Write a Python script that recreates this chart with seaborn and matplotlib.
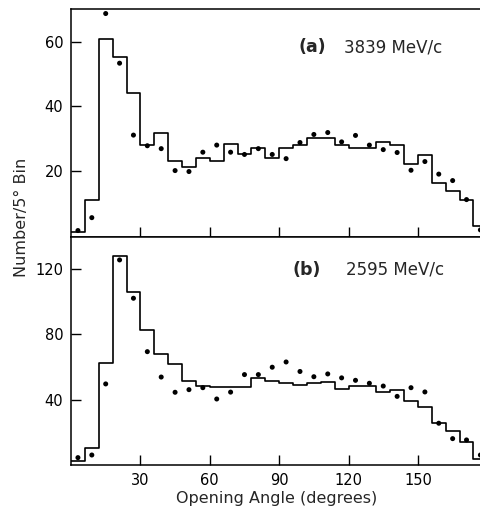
import matplotlib
matplotlib.use("Agg")
import matplotlib.pyplot as plt
import seaborn as sns
import pandas as pd

sns.set_style("ticks")
plt.rcParams['font.family'] = ['DejaVu Sans']

# ---- data ----
bin_edges = list(range(0, 181, 6))
angle_centers = [3, 9, 15, 21, 27, 33, 39, 45, 51, 57, 63, 69, 75, 81, 87,
                 93, 99, 105, 111, 117, 123, 129, 135, 141, 147, 153, 159, 165, 171, 177]

hist_a = [1.2, 10.9, 60.9, 55.3, 44.1, 28.1, 31.9, 23.2, 21.1, 24.1,
          23.2, 28.3, 25.2, 27.0, 24.1, 27.2, 28.1, 30.3, 30.3, 28.1,
          27.0, 27.0, 29.1, 28.0, 22.2, 24.9, 16.1, 13.9, 10.9, 2.9]
dots_a = [1.5, 5.5, 68.8, 53.4, 31.1, 27.8, 26.9, 20.1, 19.8, 25.8,
          28.0, 25.8, 25.1, 26.9, 25.1, 23.8, 28.8, 31.3, 31.9, 29.0,
          31.0, 28.0, 26.6, 25.7, 20.2, 22.9, 19.0, 17.0, 11.1, 1.7]

hist_b = [2.7, 10.5, 62.4, 127.8, 105.8, 82.7, 68.1, 62.2, 51.8, 48.7,
          48.1, 48.1, 48.1, 53.2, 51.6, 50.2, 49.3, 50.2, 51.2, 46.5,
          48.7, 48.8, 45.1, 46.1, 39.6, 35.9, 25.8, 20.9, 14.4, 3.8]
dots_b = [4.8, 6.4, 49.8, 125.5, 102.1, 69.5, 54.0, 44.7, 46.3, 47.5,
          40.6, 44.8, 55.5, 55.5, 60.0, 63.2, 57.4, 54.2, 55.9, 53.5,
          52.0, 50.2, 48.5, 42.2, 47.5, 44.9, 25.8, 16.4, 15.6, 6.4]

yticks_a = [20, 40, 60]
yticks_b = [40, 80, 120]
xticks = [30, 60, 90, 120, 150]
label_a = ("(a)", "3839 MeV/c")
label_b = ("(b)", "2595 MeV/c")

W, H = 480, 508
fig = plt.figure(figsize=(W / 100, H / 100), dpi=100)
left = 71
ax_a = fig.add_axes([left / W, 1 - 237 / H, (W - left) / W, (237 - 8.7) / H])
ax_b = fig.add_axes([left / W, 1 - 465 / H, (W - left) / W, (465 - 237) / H])

for ax, hv, dv, yl, yt in [(ax_a, hist_a, dots_a, (-0.5, 70.3), yticks_a),
                           (ax_b, hist_b, dots_b, (0.3, 139.5), yticks_b)]:
    df = pd.DataFrame({"angle": angle_centers, "hist": hv, "dots": dv})
    sns.histplot(data=df, x="angle", weights="hist", bins=bin_edges,
                 element="step", fill=False, color="black", linewidth=1.2, ax=ax)
    sns.scatterplot(data=df, x="angle", y="dots", color="black", s=13,
                    edgecolor="none", ax=ax, zorder=3)
    ax.set_xlim(0, (W - left) / 2.313)
    ax.set_ylim(*yl)
    ax.set_yticks(yt)
    ax.set_xticks(xticks)
    ax.set_xlabel("")
    ax.set_ylabel("")
    ax.tick_params(direction="in", length=7.5, width=1.0, labelsize=10.5,
                   pad=5.5, colors="black")
    ax.spines["right"].set_visible(False)
    for s in ["left", "top", "bottom"]:
        ax.spines[s].set_linewidth(1.1)
        ax.spines[s].set_color("black")

ax_a.tick_params(axis="x", labelbottom=False)

fig.text(298 / W, 1 - 47 / H, label_a[0], fontsize=12.5, fontweight="bold",
         ha="left", va="center")
fig.text(344 / W, 1 - 47 / H, label_a[1], fontsize=12, ha="left", va="center")
fig.text(292 / W, 1 - 270 / H, label_b[0], fontsize=12.5, fontweight="bold",
         ha="left", va="center")
fig.text(346 / W, 1 - 270 / H, label_b[1], fontsize=12, ha="left", va="center")

fig.text(22 / W, 1 - 217 / H, "Number/5° Bin", rotation=90, fontsize=11.5,
         ha="center", va="center")
fig.text(277 / W, 1 - 499 / H, "Opening Angle (degrees)", fontsize=11.5,
         ha="center", va="center")

fig.savefig("out.png", dpi=100, facecolor="white")
